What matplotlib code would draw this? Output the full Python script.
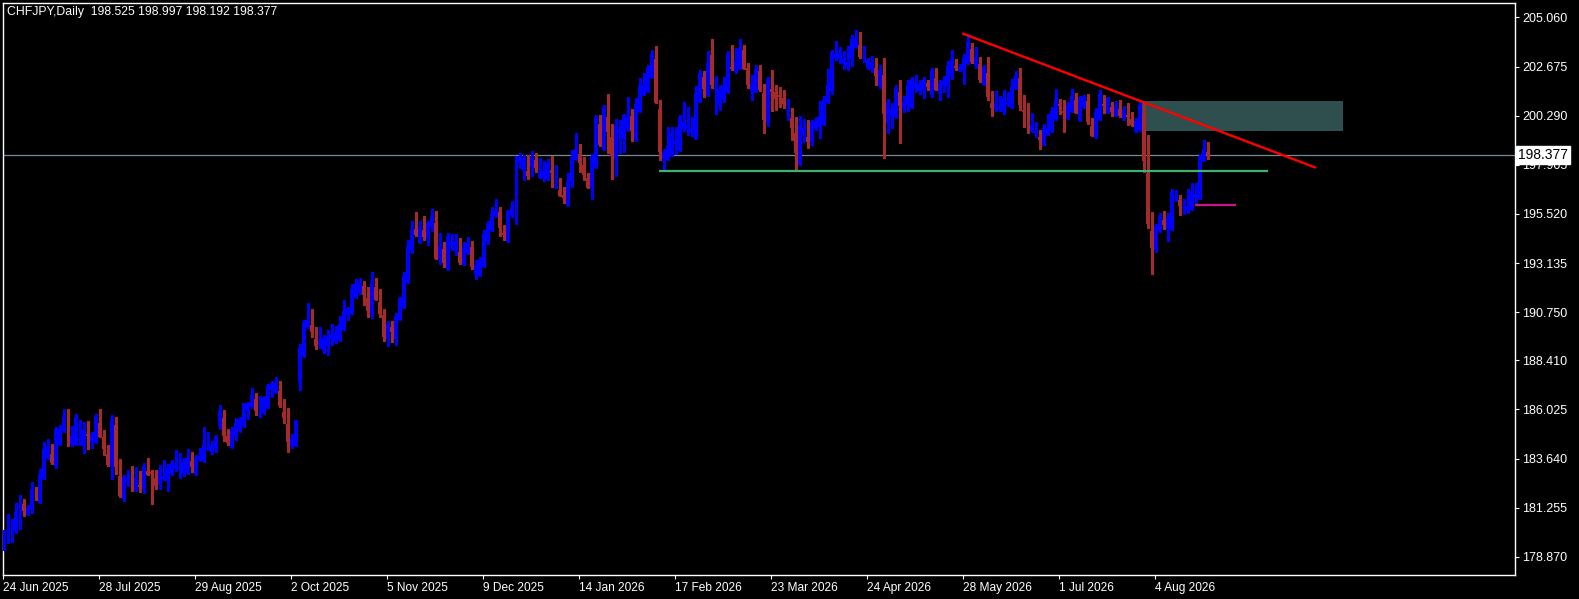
import matplotlib
matplotlib.use("Agg")
import matplotlib.pyplot as plt
from matplotlib.patches import Rectangle
import numpy as np

# CHFJPY daily candles (one value per bar)
opens = [
    179.44, 179.73, 180.21, 180.12, 180.36, 181.44, 180.90, 181.19, 182.16, 181.48,
    182.64, 183.66, 183.86, 183.28, 184.30, 184.98, 185.51, 184.35, 184.30, 184.54,
    184.25, 184.84, 184.44, 184.44, 185.36, 184.69, 183.86, 183.28, 185.27, 182.79,
    181.67, 182.55, 182.50, 182.06, 182.36, 182.16, 183.03, 182.98, 182.70, 182.41,
    182.64, 182.55, 182.94, 183.13, 183.18, 182.94, 182.94, 183.52, 182.89, 183.57,
    183.52, 184.10, 183.95, 184.15, 185.22, 185.61, 184.74, 184.15, 184.74, 185.03,
    185.22, 185.95, 186.14, 186.53, 185.76, 185.85, 186.09, 186.97, 186.82, 186.92,
    185.90, 185.32, 184.30, 184.25, 187.36, 188.62, 190.03, 190.13, 189.45, 189.16,
    188.86, 189.11, 189.45, 189.30, 189.40, 189.88, 190.61, 190.66, 191.44, 191.73,
    192.02, 191.44, 190.71, 191.97, 191.24, 190.61, 189.45, 190.03, 189.45, 190.37,
    190.95, 192.21, 193.77, 194.79, 194.11, 194.74, 194.30, 194.94, 195.08, 193.33,
    193.82, 192.80, 193.96, 193.72, 193.67, 193.04, 193.62, 193.91, 192.60, 192.51,
    192.94, 194.20, 194.69, 195.42, 195.62, 194.59, 194.15, 195.47, 195.47, 197.99,
    197.65, 197.60, 197.80, 198.14, 197.26, 197.26, 197.22, 197.65, 196.83, 196.68,
    196.44, 195.90, 197.02, 198.14, 198.43, 197.90, 197.26, 196.78, 197.75, 199.89,
    198.62, 200.23, 199.26, 198.19, 199.45, 199.16, 199.69, 200.28, 199.11, 200.47,
    201.30, 201.44, 202.12, 203.04, 200.62, 198.19, 198.14, 198.33, 198.91, 198.58,
    199.65, 199.65, 199.50, 199.16, 200.96, 202.17, 201.25, 203.24, 201.54, 200.86,
    201.10, 201.44, 202.66, 202.41, 202.56, 203.48, 202.61, 201.49, 201.44, 202.46,
    201.39, 199.99, 201.59, 201.44, 201.30, 201.15, 200.52, 200.18, 199.45, 197.90,
    199.45, 199.26, 199.01, 199.65, 199.74, 199.84, 200.91, 201.49, 203.09, 203.04,
    202.85, 202.71, 203.04, 203.58, 203.72, 203.04, 202.61, 202.56, 202.61, 201.73,
    202.27, 199.99, 200.28, 200.23, 201.44, 200.67, 200.76, 200.67, 201.63, 201.49,
    201.54, 201.88, 201.30, 202.12, 201.34, 201.78, 201.68, 202.22, 202.71, 202.46,
    202.51, 202.80, 203.53, 202.71, 202.80, 201.78, 202.36, 200.91, 200.67, 200.62,
    200.47, 200.86, 200.67, 201.63, 202.12, 200.57, 200.37, 199.55, 199.45, 199.26,
    198.87, 199.40, 199.55, 200.13, 200.86, 200.52, 200.13, 200.47, 201.05, 200.04,
    200.71, 201.00, 199.79, 199.21, 200.08, 200.86, 200.42, 200.71, 200.28, 200.62,
    200.13, 200.32, 200.13, 199.50, 199.60, 200.37, 197.51, 194.69, 193.77, 194.69,
    195.23, 194.79, 194.74, 196.34, 196.20, 195.81, 195.71, 195.71, 196.29, 196.24,
    198.09, 198.525]

highs = [
    180.17, 180.95, 180.70, 181.48, 181.87, 181.67, 181.39, 182.50, 182.26, 183.13,
    184.44, 184.59, 184.35, 185.17, 185.27, 186.04, 186.04, 185.22, 185.81, 185.51,
    185.41, 185.46, 184.93, 185.81, 186.04, 185.03, 184.30, 185.76, 185.66, 183.61,
    182.84, 183.08, 183.28, 183.23, 183.03, 183.42, 183.66, 183.08, 183.08, 183.33,
    183.57, 183.38, 183.57, 184.05, 183.90, 183.66, 184.10, 183.95, 183.81, 184.15,
    185.17, 184.93, 184.49, 184.79, 186.24, 186.00, 185.07, 185.17, 185.61, 185.66,
    186.34, 186.39, 187.07, 186.82, 186.68, 186.68, 187.26, 187.41, 187.60, 187.41,
    186.53, 186.09, 184.84, 185.51, 189.20, 190.37, 191.19, 190.90, 190.03, 190.03,
    189.64, 189.88, 190.18, 190.08, 190.56, 191.34, 191.00, 192.12, 192.36, 192.41,
    192.26, 191.97, 192.70, 192.41, 191.87, 190.90, 190.32, 190.32, 190.71, 191.48,
    192.70, 194.25, 195.18, 195.62, 195.18, 195.42, 195.18, 195.76, 195.66, 194.59,
    194.15, 194.59, 194.54, 194.54, 194.35, 194.15, 194.40, 194.20, 193.28, 193.43,
    194.74, 195.18, 195.86, 196.24, 195.86, 194.98, 195.71, 196.15, 198.33, 198.48,
    198.38, 198.38, 198.57, 198.48, 198.24, 198.09, 198.19, 198.33, 197.90, 197.26,
    196.83, 197.51, 198.62, 199.45, 198.91, 198.28, 197.51, 198.43, 200.32, 200.32,
    200.81, 201.34, 199.89, 200.13, 200.08, 200.37, 201.20, 200.62, 201.15, 202.12,
    202.36, 202.75, 203.48, 203.68, 201.05, 198.67, 199.74, 199.74, 199.74, 200.32,
    200.96, 200.71, 200.23, 201.73, 202.51, 202.46, 203.43, 204.02, 202.21, 201.78,
    202.17, 203.43, 203.72, 203.58, 204.02, 203.72, 202.85, 202.27, 202.75, 202.75,
    201.83, 202.17, 202.51, 201.78, 201.68, 201.54, 201.10, 200.67, 200.23, 200.28,
    200.13, 200.08, 200.08, 200.23, 201.00, 201.25, 202.56, 203.48, 203.92, 203.63,
    203.43, 203.68, 204.21, 204.45, 204.36, 203.68, 203.09, 203.19, 203.09, 202.75,
    203.09, 201.10, 200.91, 201.78, 202.02, 201.25, 202.02, 202.17, 202.27, 202.02,
    202.17, 202.02, 202.61, 202.61, 202.02, 202.22, 202.95, 203.48, 203.04, 202.80,
    203.29, 204.21, 203.82, 203.63, 203.14, 202.75, 203.14, 201.49, 201.49, 201.25,
    201.54, 201.44, 202.07, 202.46, 202.61, 201.30, 200.91, 200.42, 199.99, 199.60,
    199.89, 200.37, 200.71, 201.59, 201.10, 201.05, 200.96, 201.59, 201.39, 201.25,
    201.30, 201.34, 200.18, 200.67, 201.54, 201.30, 201.20, 200.96, 201.00, 201.05,
    200.76, 200.91, 200.47, 200.18, 201.00, 200.96, 199.35, 195.62, 195.03, 195.57,
    195.66, 195.57, 196.73, 196.68, 196.44, 196.24, 196.73, 197.02, 197.02, 198.43,
    199.11, 198.997]

lows = [
    179.20, 179.53, 179.58, 180.02, 180.21, 180.85, 180.90, 180.99, 181.63, 181.48,
    182.64, 183.61, 183.38, 183.18, 184.30, 184.93, 184.25, 184.25, 184.30, 184.30,
    183.90, 184.10, 184.15, 184.39, 184.69, 183.81, 183.28, 182.64, 182.89, 181.77,
    181.58, 182.31, 182.06, 182.06, 182.01, 181.96, 182.84, 181.44, 182.16, 182.16,
    182.60, 182.06, 182.84, 183.03, 182.70, 182.79, 182.89, 182.98, 182.84, 183.52,
    183.47, 184.05, 183.86, 183.95, 185.07, 184.49, 184.30, 184.15, 184.54, 184.93,
    185.17, 185.56, 186.09, 185.76, 185.66, 185.81, 186.09, 186.63, 186.82, 186.14,
    185.36, 183.95, 184.15, 184.25, 186.97, 188.57, 189.98, 189.54, 188.96, 189.01,
    188.77, 188.67, 189.16, 189.25, 189.35, 189.88, 190.37, 190.66, 191.44, 191.63,
    191.10, 190.51, 190.47, 191.34, 190.51, 189.35, 189.11, 189.30, 189.16, 190.37,
    190.95, 192.16, 193.62, 194.45, 194.11, 194.25, 194.01, 194.69, 193.33, 193.09,
    192.94, 192.80, 193.77, 193.52, 193.09, 193.04, 193.57, 192.85, 192.36, 192.51,
    192.94, 194.06, 194.69, 195.37, 194.45, 194.25, 194.15, 195.37, 195.03, 197.75,
    197.17, 197.22, 197.36, 197.56, 197.26, 197.12, 197.17, 196.83, 196.78, 196.39,
    196.05, 195.90, 196.83, 198.14, 197.56, 197.17, 196.78, 196.24, 197.75, 198.82,
    198.62, 198.48, 197.22, 197.36, 198.48, 198.53, 199.55, 199.06, 199.06, 200.47,
    201.30, 201.44, 202.12, 200.91, 198.14, 197.65, 198.14, 198.33, 198.43, 198.58,
    199.55, 199.35, 199.30, 199.16, 200.96, 201.20, 201.25, 201.63, 200.37, 200.57,
    200.96, 201.39, 202.51, 202.36, 202.56, 202.56, 201.63, 201.05, 201.44, 201.49,
    199.45, 199.79, 200.52, 200.57, 200.71, 200.67, 200.08, 199.11, 197.70, 197.90,
    199.01, 198.72, 198.87, 199.60, 199.21, 199.84, 200.91, 201.34, 203.00, 202.85,
    202.56, 202.51, 202.71, 203.58, 203.09, 202.90, 202.56, 202.41, 201.78, 201.63,
    198.24, 199.45, 199.69, 200.18, 198.96, 200.47, 200.52, 200.67, 201.44, 201.34,
    201.15, 201.54, 201.20, 201.54, 201.05, 201.44, 201.20, 202.07, 202.51, 202.46,
    201.83, 202.80, 202.85, 202.61, 201.93, 201.78, 201.05, 200.28, 200.52, 200.52,
    200.37, 200.76, 200.67, 201.59, 200.57, 199.74, 199.45, 199.50, 199.26, 198.67,
    198.87, 199.35, 199.50, 200.08, 200.37, 199.50, 200.13, 200.47, 200.42, 200.04,
    200.67, 199.89, 199.30, 199.21, 200.08, 200.42, 200.42, 200.28, 200.28, 200.23,
    200.08, 199.84, 199.79, 199.50, 199.55, 197.56, 194.84, 192.60, 193.67, 194.64,
    194.79, 194.20, 194.74, 196.15, 195.47, 195.52, 195.57, 195.71, 195.95, 196.24,
    198.09, 198.192]

closes = [
    179.93, 180.46, 180.31, 181.04, 181.53, 181.09, 181.24, 182.16, 181.67, 182.89,
    184.10, 184.20, 183.42, 185.07, 185.07, 185.66, 184.49, 184.74, 185.66, 184.59,
    185.03, 184.74, 184.79, 185.71, 184.69, 184.10, 183.33, 185.56, 183.23, 181.82,
    182.74, 182.70, 182.36, 182.74, 182.26, 183.28, 182.84, 182.89, 182.31, 183.03,
    182.74, 183.18, 183.42, 183.33, 183.23, 183.47, 183.66, 183.23, 183.61, 183.76,
    184.35, 184.15, 184.25, 184.69, 185.95, 184.74, 184.39, 184.98, 185.36, 185.51,
    186.34, 186.34, 186.73, 185.95, 186.44, 186.58, 187.21, 187.31, 187.31, 186.19,
    185.61, 184.44, 184.59, 185.46, 189.01, 190.27, 190.37, 189.78, 189.11, 189.35,
    189.50, 189.59, 189.64, 189.74, 190.18, 190.80, 190.90, 191.87, 192.12, 192.17,
    191.58, 190.80, 192.21, 191.34, 190.66, 189.54, 190.18, 189.78, 190.56, 191.44,
    192.50, 193.96, 194.74, 194.50, 194.89, 194.40, 195.08, 195.42, 193.33, 194.01,
    193.13, 194.45, 194.15, 194.20, 193.13, 193.91, 194.11, 192.94, 193.04, 193.28,
    194.54, 195.03, 195.52, 195.71, 194.84, 194.50, 195.66, 195.86, 198.19, 198.28,
    198.24, 197.36, 198.28, 197.75, 197.56, 197.60, 197.99, 197.51, 196.88, 196.39,
    196.29, 197.12, 198.28, 198.67, 197.99, 197.41, 196.78, 198.28, 200.23, 198.87,
    200.71, 199.50, 198.33, 199.79, 199.60, 200.32, 200.23, 199.55, 200.86, 201.73,
    201.78, 202.61, 203.29, 200.91, 198.53, 198.48, 198.87, 199.40, 199.01, 200.23,
    199.99, 199.84, 199.65, 201.39, 202.36, 201.59, 202.85, 201.78, 201.63, 201.54,
    201.73, 203.29, 202.56, 202.95, 203.53, 202.56, 201.78, 201.83, 202.56, 201.54,
    200.08, 202.07, 201.44, 201.10, 201.20, 200.86, 200.57, 199.69, 198.48, 199.84,
    199.69, 199.01, 199.99, 200.04, 200.28, 201.05, 201.78, 203.38, 203.29, 203.29,
    203.04, 202.90, 204.02, 204.07, 203.14, 203.09, 203.00, 202.90, 202.22, 202.51,
    200.37, 200.91, 200.57, 201.63, 200.76, 201.00, 201.78, 202.07, 201.88, 201.83,
    202.02, 201.68, 202.51, 201.54, 201.83, 201.98, 202.71, 203.04, 202.61, 202.61,
    203.09, 203.87, 202.90, 203.14, 202.02, 202.66, 201.20, 200.67, 200.86, 200.67,
    201.15, 200.96, 201.73, 202.27, 200.81, 200.47, 199.84, 199.79, 199.55, 199.11,
    199.69, 199.69, 200.52, 201.10, 200.76, 200.42, 200.81, 201.25, 200.42, 201.10,
    201.20, 199.99, 199.30, 200.47, 201.34, 200.76, 201.15, 200.47, 200.76, 200.28,
    200.57, 200.23, 199.84, 200.04, 200.81, 198.09, 195.03, 193.86, 194.93, 195.42,
    194.98, 195.32, 196.58, 196.39, 195.90, 195.86, 195.86, 196.58, 196.49, 198.33,
    198.67, 198.377]

date_labels = ["24 Jun 2025", "28 Jul 2025", "29 Aug 2025", "2 Oct 2025", "5 Nov 2025",
               "9 Dec 2025", "14 Jan 2026", "17 Feb 2026", "23 Mar 2026", "24 Apr 2026",
               "28 May 2026", "1 Jul 2026", "4 Aug 2026"]
bars_per_label = 24

price_ticks = [205.060, 202.675, 200.290, 197.905, 195.520, 193.135,
               190.750, 188.410, 186.025, 183.640, 181.255, 178.870]

symbol = "CHFJPY,Daily"
last_price = 198.377

# drawn objects (bar index / price)
support_level = 197.62
support_from, support_to = 163.8, 315.9
trend_start = (239.8, 204.27)
trend_end = (327.75, 197.78)
zone_left, zone_right = 284.0, 334.7
zone_low, zone_high = 199.56, 201.00
pink_level = 195.97
pink_from, pink_to = 297.75, 307.9

BULL = "#0000ff"
BEAR = "#a52a2a"
FONT = "Liberation Sans"


def draw_candles(ax, o, h, l, c):
    o = np.array(o); h = np.array(h); l = np.array(l); c = np.array(c)
    x = np.arange(len(o))
    cols = np.where(c >= o, BULL, BEAR)
    ax.vlines(x, l, h, colors=cols, linewidth=0.8, zorder=3, antialiased=False)
    bottom = np.minimum(o, c)
    height = np.maximum(np.abs(c - o), 0.05)
    ax.bar(x, height, bottom=bottom, width=0.75, color=cols, linewidth=0,
           zorder=4, antialiased=False)


if __name__ == '__main__':
    W, H = 1579, 599
    fig = plt.figure(figsize=(W / 100, H / 100), dpi=100, facecolor="black")
    left_px, right_px, top_px, bot_px = 2.5, 1515, 2.5, 575
    ax = fig.add_axes([left_px / W, (H - bot_px) / H,
                       (right_px - left_px) / W, (bot_px - top_px) / H])
    ax.set_facecolor("black")

    draw_candles(ax, opens, highs, lows, closes)

    ax.add_patch(Rectangle((zone_left, zone_low), zone_right - zone_left,
                           zone_high - zone_low, facecolor="#2f4f4f",
                           edgecolor="none", zorder=1))
    ax.plot([support_from, support_to], [support_level, support_level],
            color="#3cb371", linewidth=1.6, zorder=5, solid_capstyle="butt")
    ax.plot([trend_start[0], trend_end[0]], [trend_start[1], trend_end[1]],
            color="#ff0000", linewidth=1.7, zorder=6)
    ax.plot([pink_from, pink_to], [pink_level, pink_level],
            color="#c71585", linewidth=1.6, zorder=5, solid_capstyle="butt")
    ax.axhline(last_price, color="#778899", linewidth=0.9, zorder=2)

    ax.set_xlim(-0.375, 377.75)
    ax.set_ylim(177.983, 205.788)

    for s in ax.spines.values():
        s.set_color("white")
        s.set_linewidth(1.0)

    ax.yaxis.tick_right()
    ax.set_yticks(price_ticks)
    ax.set_yticklabels(["%.3f" % v for v in price_ticks], family=FONT)
    ax.tick_params(axis="y", colors="white", labelcolor="white", length=3,
                   width=0.8, direction="out", labelsize=9, pad=2)

    xt = [i * bars_per_label - 0.25 for i in range(len(date_labels))]
    ax.set_xticks(xt)
    ax.set_xticklabels(date_labels, ha="left", family=FONT)
    ax.tick_params(axis="x", colors="white", labelcolor="white", length=3,
                   width=0.8, direction="out", labelsize=8.6, pad=2)

    # current price tag on the price scale
    ax.text(1.002, last_price, "%.3f" % last_price, transform=ax.get_yaxis_transform(),
            color="black", fontsize=10, family=FONT, va="center", ha="left",
            bbox=dict(facecolor="white", edgecolor="white", pad=1.6),
            clip_on=False, zorder=10)

    fig.text(7 / W, 1 - 12.5 / H,
             "%s  %.3f %.3f %.3f %.3f" % (symbol, opens[-1], highs[-1], lows[-1], closes[-1]),
             color="white", fontsize=8.8, family=FONT, va="center", ha="left")

    fig.savefig("out.png", dpi=100, facecolor="black")
